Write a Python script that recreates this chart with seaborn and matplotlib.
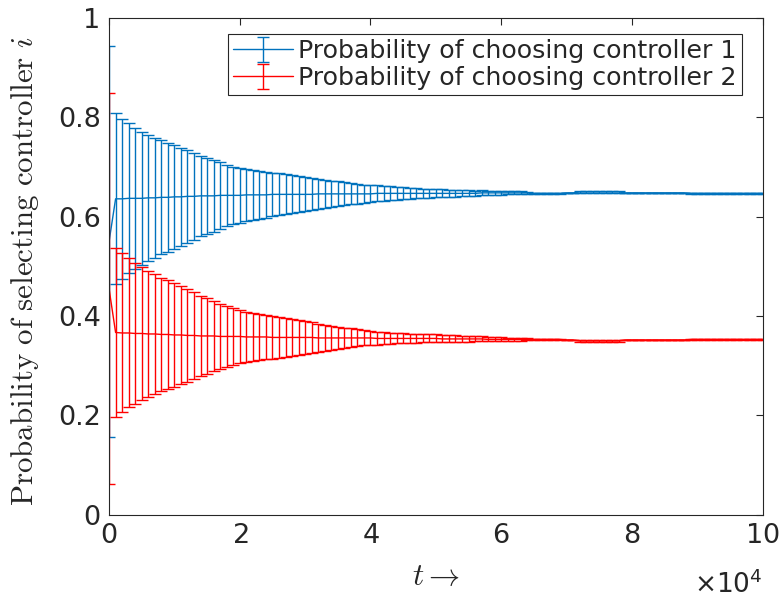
import numpy as np
import pandas as pd
import matplotlib
matplotlib.use("Agg")
import matplotlib.pyplot as plt
import seaborn as sns
from matplotlib.ticker import ScalarFormatter, FixedLocator, FuncFormatter
from matplotlib.legend_handler import HandlerTuple

# time steps (one error bar every 1000 steps)
T = np.arange(0, 100001, 1000)

# controller 1: mean probability and half-width of the error bar
P1_MEAN = [0.550, 0.636, 0.636, 0.637, 0.637, 0.637, 0.638, 0.638, 0.639, 0.639,
           0.640, 0.640, 0.641, 0.641, 0.642, 0.642, 0.642, 0.643, 0.643, 0.643,
           0.643, 0.644, 0.644, 0.644, 0.644, 0.645, 0.645, 0.645, 0.645, 0.645,
           0.645, 0.645, 0.646, 0.646, 0.646, 0.646, 0.646, 0.646, 0.646, 0.646,
           0.646, 0.647, 0.647, 0.647, 0.647, 0.647, 0.647, 0.647, 0.647, 0.647,
           0.647, 0.647, 0.647, 0.647, 0.647, 0.647, 0.647, 0.648, 0.648, 0.648,
           0.648, 0.648, 0.648, 0.648, 0.648,
           0.647, 0.647, 0.647, 0.647, 0.647,
           0.648, 0.648,
           0.650, 0.650, 0.650, 0.650, 0.650, 0.650, 0.650,
           0.648, 0.648, 0.648, 0.648, 0.648, 0.648, 0.648, 0.648, 0.648, 0.648,
           0.647, 0.647, 0.647, 0.647, 0.647, 0.647, 0.647, 0.647, 0.647, 0.647,
           0.647, 0.647]
P1_ERR = [0.394, 0.172, 0.161, 0.151, 0.142, 0.134, 0.127, 0.121, 0.115, 0.110,
          0.105, 0.099, 0.094, 0.088, 0.081, 0.077, 0.072, 0.067, 0.062, 0.058,
          0.055, 0.052, 0.050, 0.048, 0.046, 0.044, 0.042, 0.040, 0.038, 0.036,
          0.034, 0.032, 0.030, 0.028, 0.026, 0.025, 0.023, 0.021, 0.020, 0.018,
          0.017, 0.016, 0.015, 0.014, 0.013, 0.012, 0.011, 0.010, 0.009, 0.009,
          0.008, 0.008, 0.007, 0.007, 0.006, 0.006, 0.005, 0.005, 0.004, 0.004,
          0.004, 0.003, 0.003, 0.003, 0.002,
          0.0015, 0.0015, 0.0015, 0.0015, 0.0015,
          0.0005, 0.0005,
          0.0015, 0.0015, 0.0015, 0.0015, 0.0015, 0.0015, 0.0015,
          0.0005, 0.0005, 0.0005, 0.0005, 0.0005, 0.0005, 0.0005, 0.0005, 0.0005, 0.0005,
          0.0015, 0.0015, 0.0015, 0.0015, 0.0015, 0.0015, 0.0015, 0.0015, 0.0015, 0.0015,
          0.0015, 0.0015]

# controller 2
P2_MEAN = [0.455, 0.367, 0.366, 0.366, 0.365, 0.365, 0.364, 0.364, 0.363, 0.363,
           0.362, 0.362, 0.361, 0.361, 0.360, 0.360, 0.360, 0.359, 0.359, 0.359,
           0.359, 0.358, 0.358, 0.358, 0.358, 0.357, 0.357, 0.357, 0.357, 0.357,
           0.357, 0.357, 0.356, 0.356, 0.356, 0.356, 0.356, 0.356, 0.356, 0.356,
           0.356, 0.355, 0.355, 0.355, 0.355, 0.355, 0.355, 0.355, 0.355, 0.355,
           0.355, 0.354, 0.354, 0.354, 0.354, 0.354, 0.354, 0.354, 0.353, 0.353,
           0.353, 0.353, 0.353, 0.353, 0.353,
           0.353, 0.353, 0.353, 0.353, 0.353,
           0.352, 0.352,
           0.350, 0.350, 0.350, 0.350, 0.350, 0.350, 0.350,
           0.352, 0.352, 0.352, 0.352, 0.352, 0.352, 0.352, 0.352, 0.352, 0.352,
           0.353, 0.353, 0.353, 0.353, 0.353, 0.353, 0.353, 0.353, 0.353, 0.353,
           0.353, 0.353]
P2_ERR = [0.394, 0.171, 0.160, 0.150, 0.141, 0.133, 0.126, 0.120, 0.114, 0.109,
          0.104, 0.098, 0.093, 0.087, 0.080, 0.076, 0.071, 0.066, 0.061, 0.057,
          0.054, 0.051, 0.049, 0.047, 0.045, 0.043, 0.041, 0.039, 0.037, 0.035,
          0.033, 0.031, 0.029, 0.027, 0.025, 0.023, 0.021, 0.019, 0.017, 0.015,
          0.014, 0.013, 0.012, 0.011, 0.010, 0.010, 0.009, 0.009, 0.008, 0.008,
          0.008, 0.007, 0.007, 0.007, 0.006, 0.006, 0.005, 0.005, 0.004, 0.004,
          0.004, 0.003, 0.003, 0.003, 0.002,
          0.0015, 0.0015, 0.0015, 0.0015, 0.0015,
          0.0005, 0.0005,
          0.0015, 0.0015, 0.0015, 0.0015, 0.0015, 0.0015, 0.0015,
          0.0005, 0.0005, 0.0005, 0.0005, 0.0005, 0.0005, 0.0005, 0.0005, 0.0005, 0.0005,
          0.0015, 0.0015, 0.0015, 0.0015, 0.0015, 0.0015, 0.0015, 0.0015, 0.0015, 0.0015,
          0.0015, 0.0015]

LABELS = ["Probability of choosing controller 1", "Probability of choosing controller 2"]
COLORS = ["#0072BD", "#FF0000"]
Y_TICKS = [0, 0.2, 0.4, 0.6, 0.8, 1]
X_TICKS = [0, 20000, 40000, 60000, 80000, 100000]

sns.set_style("white")
plt.rcParams["font.family"] = ["DejaVu Sans"]

df = pd.DataFrame({"t": T, "p1": P1_MEAN, "e1": P1_ERR, "p2": P2_MEAN, "e2": P2_ERR})

fig = plt.figure(figsize=(7.79, 6.0), dpi=100)
ax = fig.add_axes([0.140, 0.142, 0.839, 0.828])

handles = []
for mcol, ecol, color in [("p1", "e1", COLORS[0]), ("p2", "e2", COLORS[1])]:
    sns.lineplot(data=df, x="t", y=mcol, color=color, lw=1.0, ax=ax, legend=False)
    line = ax.lines[-1]
    eb = ax.errorbar(df["t"], df[mcol], yerr=df[ecol], fmt="none", ecolor=color,
                     elinewidth=1.0, capsize=4.6, capthick=1.0)
    handles.append((line, eb))

ax.set_xlim(0, 100000)
ax.set_ylim(0, 1)
ax.xaxis.set_major_locator(FixedLocator(X_TICKS))
ax.yaxis.set_major_locator(FixedLocator(Y_TICKS))
ax.yaxis.set_major_formatter(FuncFormatter(lambda v, p: f"{v:g}"))
fmt = ScalarFormatter(useMathText=True)
fmt.set_powerlimits((4, 4))
ax.xaxis.set_major_formatter(fmt)
# the exponent is drawn by hand a bit lower, like the original
ax.xaxis.get_offset_text().set_visible(False)
ax.text(1.0, -0.113, r"$\times10^{4}$", transform=ax.transAxes, ha="right", va="top",
        fontsize=19, color="#262626")

ax.tick_params(axis="both", which="major", direction="in", length=5, width=0.8,
               labelsize=19.5, colors="#262626", top=True, right=True, pad=6)
for sp in ax.spines.values():
    sp.set_color("#262626")
    sp.set_linewidth(0.8)

ax.set_ylabel(r"$\mathrm{Probability\ of\ selecting\ controller}\ i$",
              fontsize=22.3, math_fontfamily="cm", color="#262626")
ax.yaxis.set_label_coords(-0.104, 0.49)
ax.set_xlabel(r"$t \rightarrow$", fontsize=22.5, math_fontfamily="cm",
              color="#262626", labelpad=9)

leg = ax.legend(handles, LABELS, handler_map={tuple: HandlerTuple(ndivide=1)},
                loc="upper right", bbox_to_anchor=(742 / 779, 1 - 34 / 600),
                bbox_transform=fig.transFigure, borderaxespad=0, fontsize=18.2,
                frameon=True, fancybox=False, framealpha=1, borderpad=0.2,
                labelspacing=0.12, handlelength=2.4, handletextpad=0.2)
leg.get_frame().set_edgecolor("#262626")
leg.get_frame().set_linewidth(0.8)

fig.savefig("out.png", dpi=100)
